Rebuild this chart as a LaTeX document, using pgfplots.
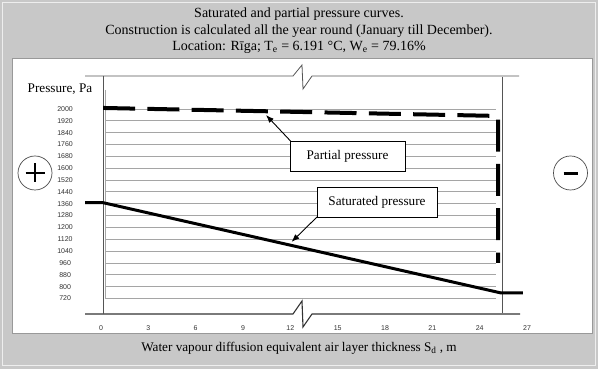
\documentclass[border=0pt]{standalone}
\usepackage{pgfplots}
\pgfplotsset{compat=1.18}
\usepackage{fontspec}
\setmainfont{Liberation Serif}
\newfontfamily\arialf{Liberation Sans}
\usetikzlibrary{arrows.meta}
\definecolor{framegray}{RGB}{200,200,200}
\definecolor{gridgray}{RGB}{165,165,165}
\definecolor{wallgray}{RGB}{85,85,85}
\newcommand{\tfont}{\fontsize{14}{16}\selectfont}
\newcommand{\lfont}{\fontsize{13.2}{15}\selectfont}
\newcommand{\tickfont}{\arialf\fontsize{7}{8}\selectfont}
\begin{document}
\begin{tikzpicture}
\fill[framegray] (0pt,0pt) rectangle (598pt,369pt);
\begin{scope}[x=1pt,y=-1pt,shift={(0pt,369pt)}]
  \draw[white!70!framegray, line width=1pt] (2.5,2.5) rectangle (595.5,365.5);
  \fill[white] (12,58) rectangle (592,333);
  \draw[gray!80, line width=0.6pt] (12,58) rectangle (592,333);
  % titles
  \node[font=\tfont] at (299,14.5) {Saturated and partial pressure curves.};
  \node[font=\tfont] at (299,31) {Construction is calculated all the year round (January till December).};
  \node[font=\tfont] at (299,47.5) {Location: Rīga; T\textsubscript{e} = 6.191 °C, W\textsubscript{e} = 79.16\%};
  \node[font=\lfont] at (299,348) {Water vapour diffusion equivalent air layer thickness S\textsubscript{d} , m};
  \node[font=\lfont] at (60,89) {Pressure, Pa};
  % frame lines with breaks
  \draw[wallgray, line width=0.8pt] (85,76) -- (293,76) -- (302,65) -- (303,89) -- (312,76) -- (519,76);
  \draw[black!80, line width=1.1pt] (85,314) -- (293,314) -- (302,301) -- (303,327) -- (312,314) -- (520,314);
  % walls
  \draw[wallgray, line width=0.8pt] (103,76) -- (103,314);
  \draw[gray!70, line width=0.6pt] (105.5,90) -- (105.5,299);
  \draw[wallgray, line width=0.8pt] (502,77) -- (502,313);
  \draw[gray!70, line width=0.6pt, double=white, double distance=1.6pt] (498,91) -- (498,300);
\end{scope}
\begin{axis}[
  at={(72.6pt,52.8pt)}, anchor=south west,
  scale only axis, width=462.35pt, height=242.72pt,
  xmin=-1.8, xmax=27.5, ymin=600, ymax=2240,
  axis line style={draw=none}, tick style={draw=none},
  xtick={0,3,...,27}, ytick={720,800,...,2000},
  /pgf/number format/assume math mode=true,
  /pgf/number format/set thousands separator={},
  xticklabel style={font=\tickfont, text=black!80, yshift=-6pt},
  yticklabel style={font=\tickfont, text=black!80, anchor=center, xshift=-7.5pt},
  clip=false,
]
\pgfplotsinvokeforeach{720,800,...,2000}{
  \draw[gridgray, line width=0.8pt] (axis cs:0.30,#1) -- (axis cs:25.0,#1);
}
\addplot[black, line width=3pt, line join=round] coordinates {(-1.01,1367) (0.13,1367) (25.35,757) (26.74,757)};
\addplot[black, line width=4pt, dash pattern=on 32pt off 12.3pt] coordinates {(0.13,2007) (25.16,1953) (25.16,960)};
\end{axis}
\begin{scope}[x=1pt,y=-1pt,shift={(0pt,369pt)}]
  % annotation boxes
  \draw[black, line width=0.9pt, -{Latex[length=8pt,width=6pt]}] (290.5,141) -- (266,115);
  \draw[black, line width=0.9pt, fill=white] (290,141) rectangle (405,171);
  \node[font=\lfont] at (347.5,156) {Partial pressure};
  \draw[black, line width=0.9pt, -{Latex[length=8pt,width=6pt]}] (317,217) -- (291.5,242);
  \draw[black, line width=0.9pt, fill=white] (317,187) rectangle (437,217);
  \node[font=\lfont] at (377,202) {Saturated pressure};
  % plus / minus circles
  \draw[gray!60!black, line width=0.7pt, fill=white] (35,173) circle (17);
  \draw[black, line width=2.8pt] (25.5,173) -- (44.5,173) (35,163.5) -- (35,182.5);
  \draw[gray!60!black, line width=0.7pt, fill=white] (570.5,173) circle (17);
  \draw[black, line width=3.2pt] (563.5,173.5) -- (577.5,173.5);
\end{scope}
\end{tikzpicture}
\end{document}
